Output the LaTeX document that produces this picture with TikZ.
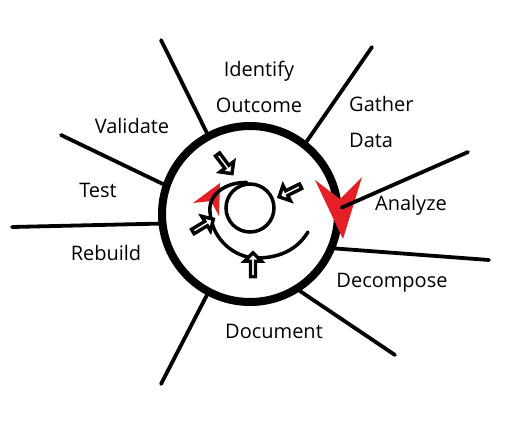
\documentclass[tikz,border=0pt]{standalone}
\usepackage{fontspec}
\setmainfont{Open Sans}
\usetikzlibrary{shapes.arrows}
\definecolor{marker}{RGB}{228,32,38}
\tikzset{hub/.style={circle,draw=black,line width=8pt,minimum size=176pt,inner sep=0pt},
		core/.style={circle,draw=black,line width=3.5pt,minimum size=48pt,inner sep=0pt},
		spoke/.style={line width=3.8pt,line cap=round},
		flow/.style={line width=3.5pt,line cap=round},
		hollow/.style={single arrow,draw=black,line width=3.4pt,fill=white,minimum height=24pt,minimum width=17pt,single arrow head extend=4pt,inner sep=0pt},
		stage/.style={font=\fontsize{20}{36}\selectfont,inner sep=0pt}}

\begin{document}
\begin{tikzpicture}[x=1pt,y=-1pt]
		\useasboundingbox (0,0) rectangle (520,432);
		\node[hub] (hub) at (250,214) {};
		\node[core] (core) at (250,208) {};

		\coordinate (end-identify) at (161,40);
		\coordinate (end-gather) at (372,47);
		\coordinate (end-validate) at (61,135);
		\coordinate (end-test) at (12,227);
		\coordinate (end-analyze) at (468,152);
		\coordinate (end-decompose) at (489,260);
		\coordinate (end-rebuild) at (161,384);
		\coordinate (end-document) at (395,355);

		% red heads first, the spiral and spokes go over them
		\fill[marker] (220,183) -- (193,203) -- (211,201) -- (219,216) -- cycle;
		\fill[marker] (315,180) -- (340,199) -- (362,177) -- (343,239) -- cycle;

		\draw[spoke] (hub.118.7) -- (end-identify);
		\draw[spoke] (hub.52.1) -- (end-gather);
		\draw[spoke] (hub.161) -- (end-validate);
		\draw[spoke] (hub.186.7) -- (end-test);
		\draw[spoke] (hub.4.2) -- (end-analyze);
		\draw[spoke] (hub.-22.4) -- (end-decompose);
		\draw[spoke] (hub.242.6) -- (end-rebuild);
		\draw[spoke] (hub.303.7) -- (end-document);

		\coordinate (spiral-end) at (308,232);
		\draw[flow] (core.97) .. controls (225,182) and (208,195) .. (210,212)
			.. controls (212,240) and (235,258) .. (257,258)
			.. controls (285,258) and (300,245) .. (spiral-end);

		\node[hollow,rotate=-53] (in-top) at (224,163) {};
		\node[hollow,rotate=-154] (in-right) at (291,191) {};
		\node[hollow,rotate=31] (in-left) at (202,226) {};
		\node[hollow,rotate=90] (in-bottom) at (253,266) {};

		\node[stage,align=center] (identify) at (259,87) {Identify\\Outcome};
		\node[stage,align=left,anchor=west] (gather) at (349,122) {Gather\\Data};
		\node[stage,anchor=base] (validate) at (132,133) {Validate};
		\node[stage,anchor=base] (test) at (98,197) {Test};
		\node[stage,anchor=base] (analyze) at (411,210) {Analyze};
		\node[stage,anchor=base] (rebuild) at (106,260) {Rebuild};
		\node[stage,anchor=base] (decompose) at (392,287) {Decompose};
		\node[stage,anchor=base] (document) at (274,338) {Document};
	\end{tikzpicture}
\end{document}
